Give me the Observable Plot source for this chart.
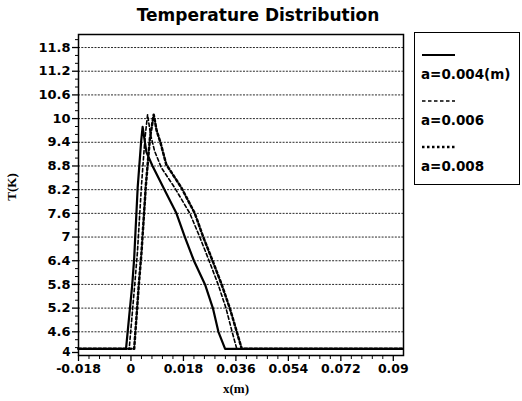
<!DOCTYPE html>
<html><head><meta charset="utf-8">
<script src="https://cdn.jsdelivr.net/npm/d3@7"></script>
<script src="https://cdn.jsdelivr.net/npm/@observablehq/plot@0.6"></script>
<style>
body{margin:0;background:#fff;}
#wrap{position:relative;width:522px;height:401px;overflow:hidden;background:#fff;}
#title{position:absolute;left:0;width:516px;top:5px;text-align:center;font-family:"DejaVu Sans",sans-serif;font-weight:bold;font-size:17px;color:#000;}
.alab{position:absolute;font-family:"Liberation Serif",serif;font-weight:bold;font-size:13px;color:#000;}
#ylab{left:-2px;top:179px;transform:rotate(-90deg);}
#xlab{left:223px;top:381px;}
#legend{position:absolute;left:414px;top:32px;width:106px;height:153px;border:1.5px solid #000;box-sizing:border-box;}
</style></head>
<body>
<div id="wrap">
<div id="title">Temperature Distribution</div>
<div class="alab" id="ylab">T(K)</div>
<div class="alab" id="xlab">x(m)</div>
<div id="legend"></div>
</div>
<script>
// series
const seriesLabels = ["a=0.004(m)", "a=0.006", "a=0.008"];
const x004 = [-0.018, -0.0017, 0.00045, 0.0011, 0.0023, 0.0035, 0.0040, 0.0053, 0.0074, 0.0115, 0.0156, 0.0185, 0.0216, 0.0254, 0.0281, 0.0300, 0.0323, 0.093];
const t004 = [4.17, 4.17, 5.8, 6.46, 8.25, 9.43, 9.79, 9.15, 8.8, 8.2, 7.6, 7.0, 6.4, 5.8, 5.2, 4.6, 4.17, 4.17];
const x006 = [-0.018, -0.0006, 0.0013, 0.0022, 0.0036, 0.0048, 0.0057, 0.0067, 0.0081, 0.0104, 0.0150, 0.0202, 0.0236, 0.0268, 0.0299, 0.0326, 0.0347, 0.0363, 0.093];
const t006 = [4.17, 4.17, 5.8, 6.6, 8.3, 9.5, 10.1, 9.6, 9.18, 8.76, 8.25, 7.6, 7.0, 6.4, 5.8, 5.2, 4.6, 4.17, 4.17];
const x008 = [-0.018, 0.0011, 0.0027, 0.0036, 0.0051, 0.0065, 0.0078, 0.0088, 0.0101, 0.0121, 0.0173, 0.0219, 0.0248, 0.0280, 0.0311, 0.0339, 0.0363, 0.0380, 0.093];
const t008 = [4.17, 4.17, 5.8, 6.6, 8.3, 9.5, 10.1, 9.7, 9.4, 8.84, 8.25, 7.6, 7.0, 6.4, 5.8, 5.2, 4.6, 4.17, 4.17];
// ticks
const yTicks = [4, 4.6, 5.2, 5.8, 6.4, 7, 7.6, 8.2, 8.8, 9.4, 10, 10.6, 11.2, 11.8];
const yTickLabels = ["4", "4.6", "5.2", "5.8", "6.4", "7", "7.6", "8.2", "8.8", "9.4", "10", "10.6", "11.2", "11.8"];
const yMinor = [4.2, 4.4, 4.8, 5.0, 5.4, 5.6, 6.0, 6.2, 6.6, 6.8, 7.2, 7.4, 7.8, 8.0, 8.4, 8.6, 9.0, 9.2, 9.6, 9.8, 10.2, 10.4, 10.8, 11.0, 11.4, 11.6, 12.0];
const xTicks = [-0.018, 0, 0.018, 0.036, 0.054, 0.072, 0.09];
const xTickLabels = ["-0.018", "0", "0.018", "0.036", "0.054", "0.072", "0.09"];
const xMinor = [-0.0144, -0.0108, -0.0072, -0.0036, 0.0036, 0.0072, 0.0108, 0.0144, 0.0216, 0.0252, 0.0288, 0.0324, 0.0396, 0.0432, 0.0468, 0.0504, 0.0576, 0.0612, 0.0648, 0.0684, 0.0756, 0.0792, 0.0828, 0.0864];

const styles = [
  {strokeWidth: 2.2, strokeDasharray: "none"},
  {strokeWidth: 1.6, strokeDasharray: "3.5,2.5"},
  {strokeWidth: 2.5, strokeDasharray: "2.5,2.5"}
];
const xs = [x004, x006, x008], ts = [t004, t006, t008];
const rows = xs.map((xx, k) => xx.map((x, i) => ({x, t: ts[k][i]})));

const tf = (arr, labs) => d => { const i = arr.findIndex(v => Math.abs(v - d) < 1e-9); return i < 0 ? "" : labs[i]; };

const chart = Plot.plot({
  width: 522, height: 401,
  marginLeft: 78, marginRight: 119, marginTop: 34, marginBottom: 46,
  x: {domain: [-0.018, 0.0935]},
  y: {domain: [4, 12.13]},
  style: {fontFamily: "DejaVu Sans, sans-serif", fontWeight: "bold", fontSize: "12px", color: "#000", background: "#fff", overflow: "visible"},
  marks: [
    Plot.ruleY(yTicks.slice(1), {stroke: "#111", strokeWidth: 0.9, strokeDasharray: "2,1.3"}),
    ...rows.map((r, k) => Plot.line(r, {x: "x", y: "t", stroke: "#000", strokeWidth: styles[k].strokeWidth, strokeDasharray: styles[k].strokeDasharray, curve: "linear"})),
    Plot.frame({stroke: "#000", strokeWidth: 1.5}),
    Plot.axisY(yTicks.slice(1), {tickSize: 6, tickPadding: 2, tickFormat: tf(yTicks, yTickLabels), label: null, fontSize: 13, strokeWidth: 1.3}),
    Plot.axisY(yTicks.slice(0, 1), {tickSize: 6, tickPadding: 2, tickFormat: tf(yTicks, yTickLabels), label: null, fontSize: 12, dy: -3, strokeWidth: 1.3}),
    Plot.axisY(yMinor, {tickSize: 3, tickFormat: () => "", label: null, strokeWidth: 1}),
    Plot.axisX(xTicks, {tickSize: 6, tickPadding: 3, tickFormat: tf(xTicks, xTickLabels), label: null, fontSize: 12.5, strokeWidth: 1.3}),
    Plot.axisX(xMinor, {tickSize: 4, tickFormat: () => "", label: null, strokeWidth: 1})
  ]
});
chart.style.position = "absolute";
chart.style.left = "0px";
chart.style.top = "0px";
document.getElementById("wrap").prepend(chart);

// legend
const ns = "http://www.w3.org/2000/svg";
const lg = document.createElementNS(ns, "svg");
lg.setAttribute("width", 103); lg.setAttribute("height", 150);
lg.style.position = "absolute"; lg.style.left = "0px"; lg.style.top = "0px";
const itemY = [22, 68, 114];
seriesLabels.forEach((lab, k) => {
  const ln = document.createElementNS(ns, "line");
  ln.setAttribute("x1", 7); ln.setAttribute("x2", 40);
  ln.setAttribute("y1", itemY[k]); ln.setAttribute("y2", itemY[k]);
  ln.setAttribute("stroke", "#000"); ln.setAttribute("stroke-width", styles[k].strokeWidth);
  ln.setAttribute("stroke-dasharray", styles[k].strokeDasharray);
  lg.appendChild(ln);
  const tx = document.createElementNS(ns, "text");
  tx.setAttribute("x", 6); tx.setAttribute("y", itemY[k] + 24);
  tx.setAttribute("font-family", "DejaVu Sans, sans-serif");
  tx.setAttribute("font-weight", "bold");
  tx.setAttribute("font-size", 13.5);
  tx.textContent = lab;
  lg.appendChild(tx);
});
document.getElementById("legend").appendChild(lg);
</script>
</body></html>
